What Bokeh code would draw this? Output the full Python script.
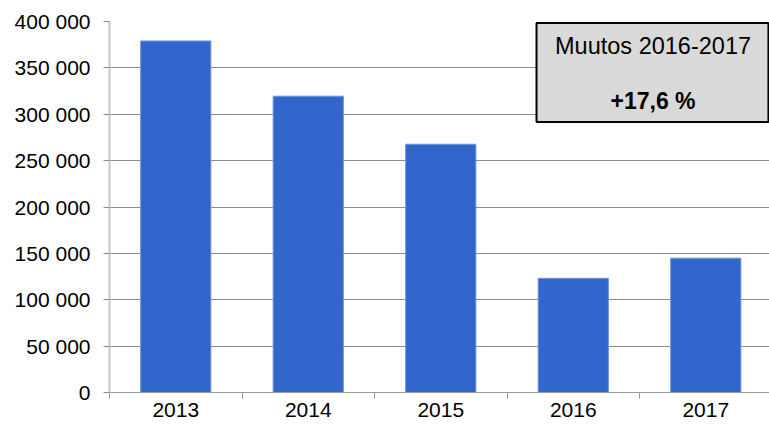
from bokeh.plotting import figure
from bokeh.models import FixedTicker, Range1d, Label, BoxAnnotation
from bokeh.embed import file_html
from bokeh.resources import INLINE

# ---- data ----
years = ["2013", "2014", "2015", "2016", "2017"]
values = [379000, 319500, 267700, 123100, 144800]
y_ticks = [0, 50000, 100000, 150000, 200000, 250000, 300000, 350000, 400000]
y_tick_labels = ["0", "50 000", "100 000", "150 000", "200 000",
                 "250 000", "300 000", "350 000", "400 000"]
box_title = "Muutos 2016-2017"
box_value = "+17,6 %"

# ---- layout ----
W, H = 769, 427
FONT = "Liberation Sans"
BAR = "#3366CC"

x_pos = [i + 0.5 for i in range(len(years))]
x_end = 4.981

p = figure(width=W, height=H, output_backend="svg", toolbar_location=None,
           x_range=Range1d(0, x_end), y_range=Range1d(0, 400000),
           min_border_left=109, min_border_right=0,
           min_border_top=21, min_border_bottom=35)
p.outline_line_color = None
p.background_fill_color = "white"
p.border_fill_color = "white"

p.vbar(x=x_pos, top=values, width=0.53, fill_color=BAR,
       line_color="#7095de", line_width=1)

# y axis
ya = p.yaxis[0]
ya.ticker = FixedTicker(ticks=y_ticks)
ya.major_label_overrides = {t: l for t, l in zip(y_ticks, y_tick_labels)}
ya.major_label_text_font = FONT
ya.major_label_text_font_size = "21px"
ya.major_label_text_color = "#000000"
ya.major_tick_in = 0
ya.major_tick_out = 6
ya.major_tick_line_color = "#8a8a8a"
ya.minor_tick_line_color = None
ya.axis_line_color = "#c4c4c4"
ya.axis_line_width = 2
ya.major_label_standoff = 13

# x axis
xa = p.xaxis[0]
xa.ticker = FixedTicker(ticks=x_pos, minor_ticks=list(range(len(years) + 1)))
xa.major_label_overrides = {x: y for x, y in zip(x_pos, years)}
xa.major_label_text_font = FONT
xa.major_label_text_font_size = "21px"
xa.major_label_text_color = "#000000"
xa.major_tick_line_color = None
xa.major_tick_in = 0
xa.major_tick_out = 6
xa.minor_tick_in = 0
xa.minor_tick_out = 6
xa.minor_tick_line_color = "#9a9a9a"
xa.axis_line_color = "#9a9a9a"
xa.axis_line_width = 1
xa.major_label_standoff = 4

p.xgrid.grid_line_color = None
p.ygrid.grid_line_color = "#8c8c8c"
p.ygrid.grid_line_width = 1

# info box (positions in data units)
box = BoxAnnotation(left=3.2226, right=4.973, top=398500, bottom=291600,
                    fill_color="#d9d9d9", fill_alpha=1.0,
                    line_color="#000000", line_alpha=1.0, line_width=2,
                    level="annotation")
p.add_layout(box)

p.add_layout(Label(x=4.102, y=373300, text=box_title, text_font=FONT,
                   text_font_size="23.5px", text_align="center",
                   text_baseline="middle", text_color="#000000",
                   level="overlay"))
p.add_layout(Label(x=4.102, y=314600, text=box_value, text_font=FONT,
                   text_font_size="23px", text_font_style="bold",
                   text_align="center", text_baseline="middle",
                   text_color="#000000", level="overlay"))

open("out.html", "w").write(file_html(p, INLINE))
